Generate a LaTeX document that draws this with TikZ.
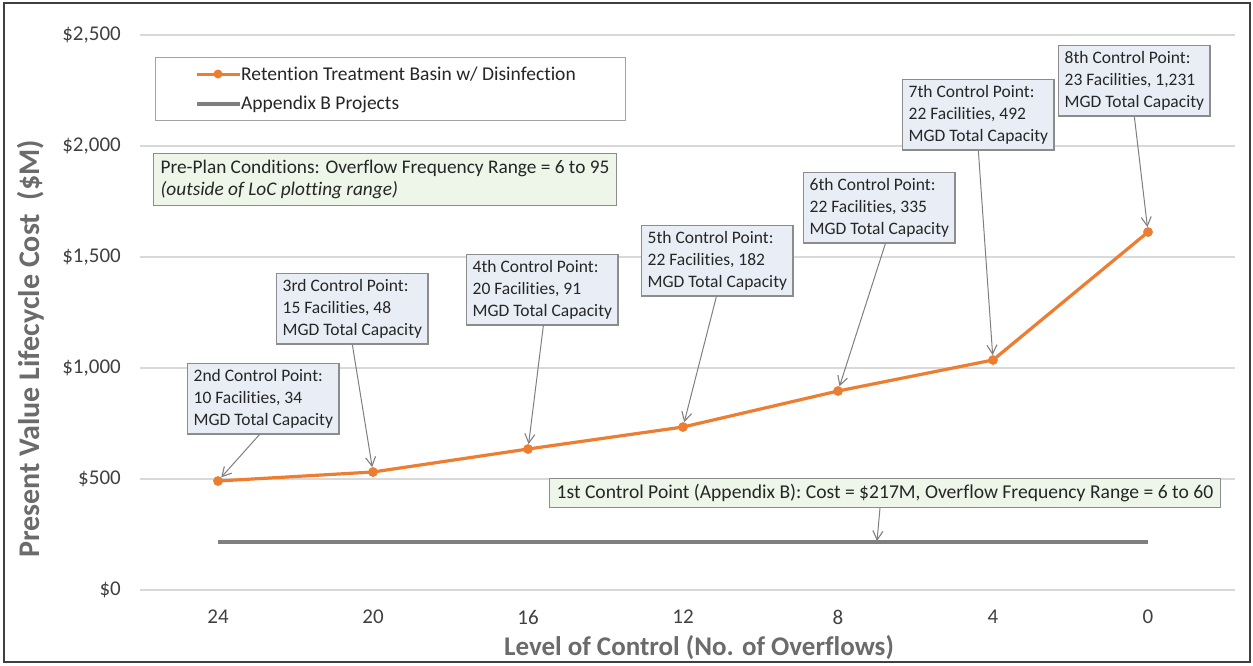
\documentclass[tikz,border=0pt]{standalone}
\usepackage{fontspec}
\setmainfont{Carlito}[Ligatures=NoCommon]
\usetikzlibrary{arrows.meta}

\definecolor{seriesorange}{HTML}{ED7D31}
\definecolor{seriesgray}{HTML}{7F7F7F}
\definecolor{gridgray}{HTML}{D9D9D9}
\definecolor{boxline}{HTML}{8C8C8C}
\definecolor{bluefill}{HTML}{E9EEF6}
\definecolor{greenfill}{HTML}{EEF5E9}
\definecolor{ticktext}{HTML}{404040}
\definecolor{titletext}{HTML}{6B6B6B}
\definecolor{bodytext}{HTML}{262626}
\definecolor{framegray}{HTML}{3F3F3F}

\tikzset{
  frame/.style={draw=framegray, line width=1.2},
  gridline/.style={draw=gridgray, line width=1.5},
  ticklab/.style={text=ticktext, font=\fontsize{21}{24}\selectfont, inner sep=0},
  axtitle/.style={text=titletext, font=\bfseries\fontsize{27}{30}\selectfont, inner sep=0},
  series/.style={draw=seriesorange, line width=3.2, line join=round},
  basecase/.style={draw=seriesgray, line width=4},
  dot/.style={circle, fill=seriesorange, inner sep=0, minimum size=9.5},
  legendbox/.style={draw=boxline!80, line width=1, fill=white, inner sep=0},
  legtext/.style={text=bodytext, font=\fontsize{19.5}{22}\selectfont, inner sep=0, anchor=west},
  callout/.style={draw=boxline, line width=1.3, fill=bluefill, text=bodytext,
    font=\fontsize{17.5}{21.7}\selectfont, align=left, anchor=north west,
    inner xsep=6, inner ysep=6},
  notebox/.style={callout, fill=greenfill, font=\fontsize{19.3}{22}\selectfont},
  pointer/.style={draw=seriesgray, line width=1,
    -{Straight Barb[length=9,width=10,line width=1.1]}},
}

\begin{document}
\begin{tikzpicture}[x=1pt,y=-1pt]
\useasboundingbox (0,0) rectangle (1253,665);
\draw[frame] (4,3) rectangle (1250,662);

% value axis: gridlines and labels, 111 px per $500M
\foreach \k/\lab in {0/{\$0},1/{\$500},2/{\$1,000},3/{\$1,500},4/{\$2,000},5/{\$2,500}}{
  \draw[gridline] (140,{590-111*\k}) -- (1235,{590-111*\k});
  \node[ticklab, anchor=east] (yt\k) at (121,{590-111*\k}) {\lab};
}

% level-of-control axis labels
\foreach \n [count=\i from 0] in {24,20,16,12,8,4,0}{
  \node[ticklab] (xt\n) at ({218+155*\i},617) {\n};
}

\node[axtitle, rotate=90, font=\bfseries\fontsize{30}{32}\selectfont] (ytitle) at (31,349)
  {Present Value Lifecycle Cost\ \ (\$M)};
\node[axtitle] (xtitle) at (699,648) {Level of Control (No. of Overflows)};

% Appendix B projects (constant cost)
\coordinate (ab0) at (218,542);
\coordinate (ab1) at (1148,542);
\draw[basecase] (ab0) -- (ab1);
\coordinate (abmark) at (877,541);

% retention treatment basin series
\node[dot] (p24) at (218,481) {};
\node[dot] (p20) at (373,472) {};
\node[dot] (p16) at (528,449) {};
\node[dot] (p12) at (683,427) {};
\node[dot] (p8)  at (838,391) {};
\node[dot] (p4)  at (993,360) {};
\node[dot] (p0)  at (1148,232) {};
\draw[series] (p24.center) -- (p20.center) -- (p16.center) -- (p12.center)
  -- (p8.center) -- (p4.center) -- (p0.center);
\foreach \p in {p24,p20,p16,p12,p8,p4,p0}{ \node[dot] at (\p) {}; }

% legend
\node[legendbox, minimum width=470, minimum height=63, anchor=north west] (legend) at (155,57) {};
\draw[series, line width=3] (197,74) -- (240,74);
\node[dot, minimum size=9] (legdot) at (218,74) {};
\node[legtext] (leg1) at (241,74) {Retention Treatment Basin w/ Disinfection};
\draw[basecase, line width=3.5] (197,104) -- (240,104);
\node[legtext] (leg2) at (241,104) {Appendix B Projects};

% notes
\node[notebox, inner xsep=7, inner ysep=6.5] (preplan) at (153,153)
  {Pre-Plan Conditions: Overflow Frequency Range = 6 to 95\\\textit{(outside of LoC plotting range)}};
\node[notebox, inner xsep=7, inner ysep=5.5, font=\fontsize{19.6}{22}\selectfont] (first) at (549,478)
  {1st Control Point (Appendix B): Cost = \$217M, Overflow Frequency Range = 6 to 60};

% control point callouts
\node[callout] (c2) at (187,363) {2nd Control Point:\\10 Facilities, 34\\MGD Total Capacity};
\node[callout] (c3) at (276,273) {3rd Control Point:\\15 Facilities, 48\\MGD Total Capacity};
\node[callout] (c4) at (466,254) {4th Control Point:\\20 Facilities, 91\\MGD Total Capacity};
\node[callout] (c5) at (641,225) {5th Control Point:\\22 Facilities, 182\\MGD Total Capacity};
\node[callout] (c6) at (803,172) {6th Control Point:\\22 Facilities, 335\\MGD Total Capacity};
\node[callout] (c7) at (902,79) {7th Control Point:\\22 Facilities, 492\\MGD Total Capacity};
\node[callout] (c8) at (1058,45) {8th Control Point:\\23 Facilities, 1,231\\MGD Total Capacity};

% leader arrows
\draw[pointer] ([xshift=-4]c2.south) -- (p24);
\draw[pointer] ([xshift=0]c3.south) -- (p20);
\draw[pointer] ([xshift=1]c4.south) -- (p16);
\draw[pointer] ([xshift=-1]c5.south) -- (p12);
\draw[pointer] ([xshift=6]c6.south) -- (p8);
\draw[pointer] ([xshift=0]c7.south) -- (p4);
\draw[pointer] ([xshift=0]c8.south) -- (p0);
\draw[pointer] (first.south -| abmark) ++(3,0) -- (abmark);
\end{tikzpicture}
\end{document}
